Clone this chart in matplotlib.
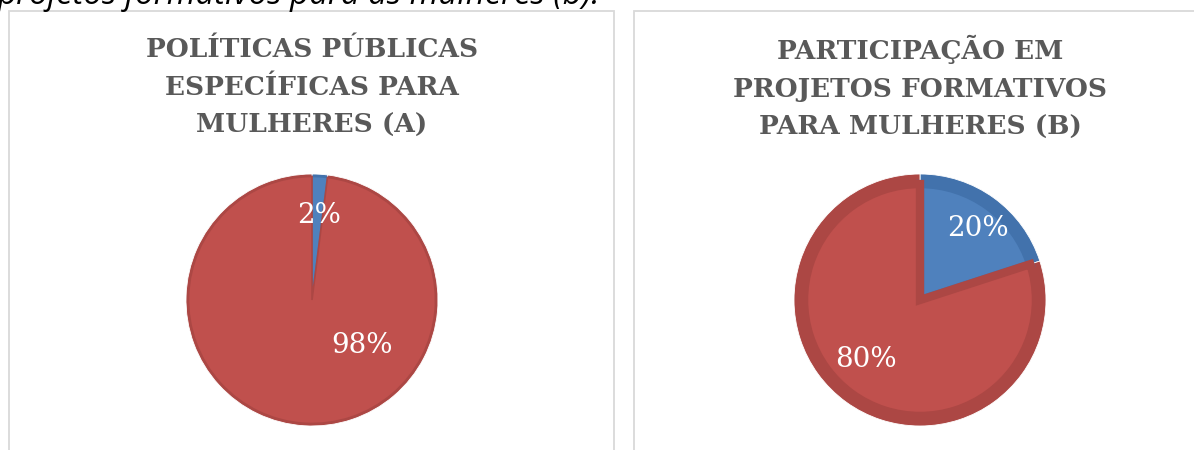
import matplotlib
matplotlib.use("Agg")
import matplotlib.pyplot as plt
from matplotlib.patches import Rectangle

# data
caption = "projetos formativos para as mulheres (b)."
title_a = "POLÍTICAS PÚBLICAS\nESPECÍFICAS PARA\nMULHERES (A)"
title_b = "PARTICIPAÇÃO EM\nPROJETOS FORMATIVOS\nPARA MULHERES (B)"
shares_a = [2, 98]
shares_b = [20, 80]
labels_a = ["2%", "98%"]
labels_b = ["20%", "80%"]

W, H = 1194, 450
BLUE, BLUE_DK = "#4F81BD", "#4272AC"
RED, RED_DK = "#C0504D", "#AC4744"
TITLE_C = "#595959"

fig = plt.figure(figsize=(W / 100, H / 100), dpi=100)


def fx(px):
    return px / W


def fy(py):
    return 1 - py / H


# panel frames
for x0, x1 in [(9, 614), (634, 1200)]:
    fig.patches.append(Rectangle((fx(x0), fy(460)), fx(x1 - x0), (460 - 11) / H,
                                 transform=fig.transFigure, fill=False,
                                 edgecolor="#D9D9D9", linewidth=1.3))

# cut-off caption from the page above
fig.text(fx(-2), fy(4), caption, fontsize=23.8, style="italic",
         family="Open Sans", color="black", va="baseline", ha="left")


def draw_pie(cx, cy, r, shares, labels, label_pos, title, edge, lw):
    ax = fig.add_axes([fx(cx - r), fy(cy + r), fx(2 * r), 2 * r / H])
    ax.axis("off")
    ax.pie(shares, colors=[BLUE_DK, RED_DK], startangle=90, counterclock=False,
           radius=1, frame=False,
           wedgeprops=dict(edgecolor="white", linewidth=0.6))
    inner, _ = ax.pie(shares, colors=[BLUE, RED], startangle=90, counterclock=False,
                      radius=1 - edge, frame=False,
                      wedgeprops=dict(linewidth=lw))
    for w, c in zip(inner, [BLUE_DK, RED_DK]):
        w.set_edgecolor(c)
    ax.set_xlim(-1, 1)
    ax.set_ylim(-1, 1)
    ax.set_aspect("equal")
    for lab, (lx, ly) in zip(labels, label_pos):
        ax.text(lx, ly, lab, color="white", fontsize=20, family="DejaVu Serif",
                ha="center", va="center")
    fig.text(fx(cx), fy(87.5), title, ha="center", va="center", fontsize=19,
             fontweight="bold", family="DejaVu Serif", color=TITLE_C,
             linespacing=1.66)


draw_pie(312, 300, 126, shares_a, labels_a, [(0.06, 0.67), (0.40, -0.36)],
         title_a, 0.02, 1.2)
draw_pie(920, 300, 126, shares_b, labels_b, [(0.46, 0.57), (-0.43, -0.47)],
         title_b, 0.08, 6)

fig.savefig("out.png", dpi=100)
